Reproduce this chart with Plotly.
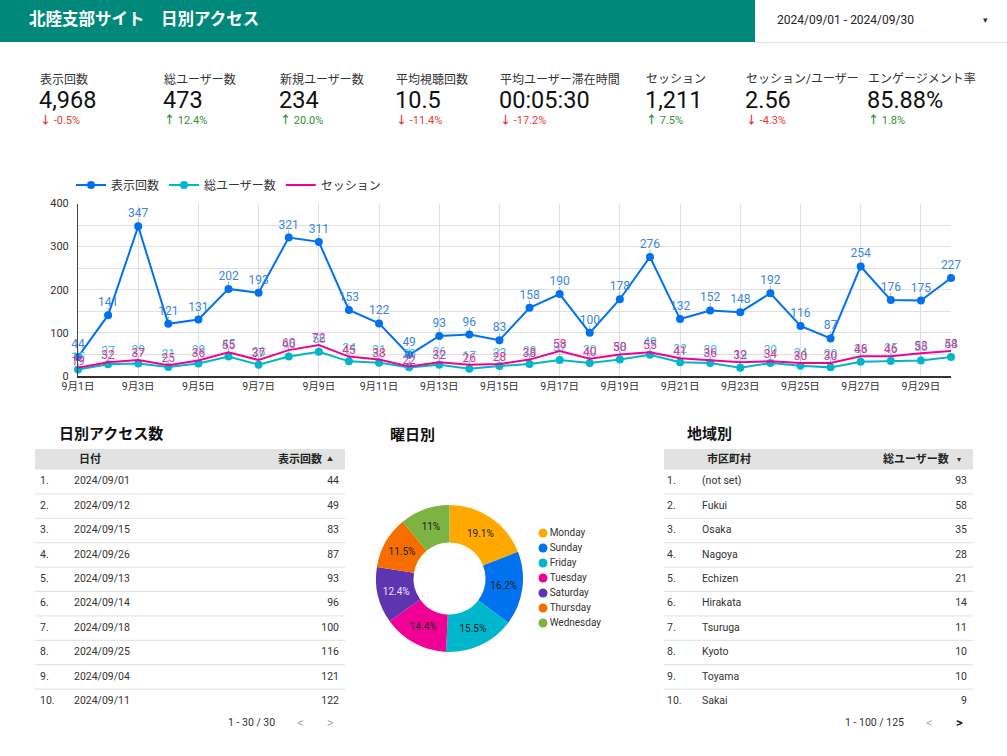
import plotly.graph_objects as go
import pandas as pd

W, H = 1007, 756
FONT = "Roboto, 'Noto Sans CJK JP', sans-serif"

# ---------------- data ----------------
dates = pd.date_range("2024-09-01", "2024-09-30")
views = [44, 141, 347, 121, 131, 202, 193, 321, 311, 153, 122, 49, 93, 96, 83,
         158, 190, 100, 178, 276, 132, 152, 148, 192, 116, 87, 254, 176, 175, 227]
users = [15, 27, 29, 21, 29, 45, 26, 45, 56, 34, 31, 20, 26, 17, 23,
         28, 37, 30, 38, 49, 32, 30, 19, 30, 24, 20, 33, 35, 36, 44]
sessions = [19, 32, 37, 25, 36, 55, 37, 60, 72, 45, 38, 22, 32, 26, 28,
            38, 58, 40, 50, 55, 41, 36, 32, 34, 30, 30, 46, 46, 53, 58]
tick_days = ["2024-09-01", "2024-09-03", "2024-09-05", "2024-09-07", "2024-09-09",
             "2024-09-11", "2024-09-13", "2024-09-15", "2024-09-17", "2024-09-19",
             "2024-09-21", "2024-09-23", "2024-09-25", "2024-09-27", "2024-09-29"]

kpi_labels = ["表示回数", "総ユーザー数", "新規ユーザー数", "平均視聴回数",
              "平均ユーザー滞在時間", "セッション", "セッション/ユーザー", "エンゲージメント率"]
kpi_values = ["4,968", "473", "234", "10.5", "00:05:30", "1,211", "2.56", "85.88%"]
kpi_deltas = [-0.5, 12.4, 20.0, -11.4, -17.2, 7.5, -4.3, 1.8]

t1_dates = ["2024/09/01", "2024/09/12", "2024/09/15", "2024/09/26", "2024/09/13",
            "2024/09/14", "2024/09/18", "2024/09/25", "2024/09/04", "2024/09/11"]
t1_views = [44, 49, 83, 87, 93, 96, 100, 116, 121, 122]

cities = ["(not set)", "Fukui", "Osaka", "Nagoya", "Echizen",
          "Hirakata", "Tsuruga", "Kyoto", "Toyama", "Sakai"]
city_users = [93, 58, 35, 28, 21, 14, 11, 10, 10, 9]

weekdays = ["Monday", "Sunday", "Friday", "Tuesday", "Saturday", "Thursday", "Wednesday"]
weekday_share = [19.1, 16.2, 15.5, 14.4, 12.4, 11.5, 11]

# ---------------- styles ----------------
C_VIEWS, C_USERS, C_SESS = "#0072f0", "#00b6cb", "#f10096"
PIE_COLORS = ["#ffa800", "#0072f0", "#00b6cb", "#f10096", "#5e35b1", "#f66d00", "#7cb342"]
PIE_TEXT = ["#222", "#222", "#222", "#222", "#e8e0f5", "#222", "#222"]
TEAL = "#00897b"
TXT = "#333333"
LEADER = "#b5b5b5"


def fx(p):
    return p / W


def fy(p):
    return 1 - p / H


def leader(n, length):
    # short gray leader line from each point up to its data label
    return dict(type="data", symmetric=False, array=[length] * n, arrayminus=[0] * n,
                color=LEADER, thickness=1, width=0)


fig = go.Figure()

# ---------------- line chart ----------------
fig.add_trace(go.Scatter(x=dates, y=views, name="表示回数", mode="lines+markers+text",
                         line=dict(color=C_VIEWS, width=2), marker=dict(size=8, color=C_VIEWS),
                         text=views, textposition="top center",
                         textfont=dict(color="#3a86e0", size=12), cliponaxis=False,
                         error_y=leader(len(views), 17), hoverinfo="skip"))
fig.add_trace(go.Scatter(x=dates, y=users, name="総ユーザー数", mode="lines+markers+text",
                         line=dict(color=C_USERS, width=2), marker=dict(size=8, color=C_USERS),
                         text=users, textposition="top center",
                         textfont=dict(color="#3cc0d2", size=12), cliponaxis=False,
                         error_y=leader(len(users), 17), hoverinfo="skip"))
fig.add_trace(go.Scatter(x=dates, y=sessions, name="セッション", mode="lines+text",
                         line=dict(color=C_SESS, width=2),
                         text=sessions, textposition="top center",
                         textfont=dict(color="#e0339a", size=12), cliponaxis=False,
                         error_y=leader(len(sessions), 11), hoverinfo="skip"))

# ---------------- pie ----------------
fig.add_trace(go.Pie(labels=weekdays, values=weekday_share, hole=0.49, sort=False,
                     direction="clockwise", rotation=0,
                     marker=dict(colors=PIE_COLORS, line=dict(width=0)),
                     text=[f"{v:g}%" for v in weekday_share], textinfo="text",
                     textposition="inside", insidetextorientation="horizontal",
                     insidetextfont=dict(size=10, color=PIE_TEXT, family=FONT),
                     domain=dict(x=[fx(375), fx(524)], y=[fy(652), fy(505)]),
                     showlegend=False, hoverinfo="skip"))

# pie legend (circle markers)
fig.add_trace(go.Scatter(x=[543] * len(weekdays), y=list(range(len(weekdays))),
                         mode="markers+text", marker=dict(size=9, color=PIE_COLORS),
                         text=weekdays, textposition="middle right",
                         textfont=dict(size=10, color=TXT), xaxis="x4", yaxis="y4",
                         showlegend=False, hoverinfo="skip", cliponaxis=False))

# ---------------- tables ----------------
rows = list(range(1, 11))
idx_labels = [f"{r}." for r in rows]


def add_table(xa, ya, x_idx, x_name, x_val, names, vals):
    fig.add_trace(go.Scatter(x=[x_idx] * 10, y=rows, mode="text", text=idx_labels,
                             textposition="middle right", textfont=dict(size=10.5, color=TXT),
                             xaxis=xa, yaxis=ya, showlegend=False, hoverinfo="skip",
                             cliponaxis=False))
    fig.add_trace(go.Scatter(x=[x_name] * 10, y=rows, mode="text", text=names,
                             textposition="middle right", textfont=dict(size=10.5, color=TXT),
                             xaxis=xa, yaxis=ya, showlegend=False, hoverinfo="skip",
                             cliponaxis=False))
    fig.add_trace(go.Scatter(x=[x_val] * 10, y=rows, mode="text", text=vals,
                             textposition="middle left", textfont=dict(size=10.5, color=TXT),
                             xaxis=xa, yaxis=ya, showlegend=False, hoverinfo="skip",
                             cliponaxis=False))


add_table("x2", "y2", 40, 74, 339, t1_dates, t1_views)
add_table("x3", "y3", 667, 702, 967, cities, city_users)

ROW_TOP, ROW_BOT = -0.34, 11.38
shapes = []
for xa, ya, x0, x1 in [("x2", "y2", 35, 345), ("x3", "y3", 664, 973)]:
    shapes.append(dict(type="rect", xref=xa, yref=ya, x0=x0, x1=x1, y0=ROW_TOP, y1=0.5,
                       fillcolor="#e2e2e2", line=dict(width=0), layer="below"))
    for r in rows[:-1]:
        shapes.append(dict(type="line", xref=xa, yref=ya, x0=x0, x1=x1, y0=r + 0.5, y1=r + 0.5,
                           line=dict(color="#e0e0e0", width=1)))

# header
shapes.append(dict(type="rect", xref="paper", yref="paper", x0=0, x1=fx(755), y0=fy(42), y1=1,
                   fillcolor=TEAL, line=dict(width=0), layer="below"))
shapes.append(dict(type="line", xref="paper", yref="paper", x0=fx(755), x1=1, y0=fy(42.5), y1=fy(42.5),
                   line=dict(color="#e6e6e6", width=1.5)))

annotations = []


def ann(x, y, text, size, color=TXT, xanchor="left", xref="paper", yref="paper", **kw):
    annotations.append(dict(x=x, y=y, xref=xref, yref=yref, text=text, showarrow=False,
                            xanchor=xanchor, yanchor="middle",
                            font=dict(size=size, color=color, family=FONT), **kw))


ann(fx(27), fy(19), "<b>北陸支部サイト　日別アクセス</b>", 16.5, "white")
ann(fx(775), fy(20), "2024/09/01 - 2024/09/30", 12, "#222")
ann(fx(985), fy(20), "▾", 9, "#333", xanchor="center")

kpi_x = [39, 163, 279, 395, 499, 645, 745, 867]
for x, lab, val, d in zip(kpi_x, kpi_labels, kpi_values, kpi_deltas):
    ann(fx(x - 1), fy(79), lab, 12, TXT)
    ann(fx(x - 2), fy(100), val, 23.5, "#111")
    if d < 0:
        ann(fx(x - 1), fy(121), f"<b>↓</b> {d:.1f}%", 11, "#e53935")
    else:
        ann(fx(x - 1), fy(121), f"<b>↑</b> {d:.1f}%", 11, "#388e3c")

# section titles
ann(fx(57), fy(434), "<b>日別アクセス数</b>", 15, "#111")
ann(fx(388), fy(435), "<b>曜日別</b>", 15, "#111")
ann(fx(685), fy(434), "<b>地域別</b>", 15, "#111")

# table headers and pagination
ann(77, 0.08, "<b>日付</b>", 11, "#222", xref="x2", yref="y2")
ann(324, 0.08, "<b>表示回数</b>", 11, "#222", xanchor="right", xref="x2", yref="y2")
ann(330, 0.05, "▲", 6, "#333", xanchor="center", xref="x2", yref="y2")
ann(277, 10.87, "1 - 30 / 30", 10.5, TXT, xanchor="right", xref="x2", yref="y2")
ann(300, 10.87, "<", 13, "#aaaaaa", xanchor="center", xref="x2", yref="y2")
ann(330, 10.87, ">", 13, "#aaaaaa", xanchor="center", xref="x2", yref="y2")

ann(705, 0.08, "<b>市区町村</b>", 11, "#222", xref="x3", yref="y3")
ann(951, 0.08, "<b>総ユーザー数</b>", 11, "#222", xanchor="right", xref="x3", yref="y3")
ann(959, 0.1, "▾", 8, "#333", xanchor="center", xref="x3", yref="y3")
ann(906, 10.87, "1 - 100 / 125", 10.5, TXT, xanchor="right", xref="x3", yref="y3")
ann(929, 10.87, "<", 13, "#aaaaaa", xanchor="center", xref="x3", yref="y3")
ann(959, 10.87, "<b>></b>", 13, "#222", xanchor="center", xref="x3", yref="y3")

hidden = dict(visible=False, fixedrange=True, automargin=False)

fig.update_layout(
    width=W, height=H, autosize=False,
    margin=dict(l=0, r=0, t=0, b=0, pad=0, autoexpand=False),
    paper_bgcolor="white", plot_bgcolor="white",
    font=dict(family=FONT, color=TXT),
    showlegend=True,
    legend=dict(orientation="h", x=fx(71), y=fy(185), xanchor="left", yanchor="middle",
                font=dict(size=12, color=TXT), bgcolor="rgba(0,0,0,0)", itemclick=False),
    xaxis=dict(domain=[fx(78), fx(951)], range=["2024-09-01", "2024-09-30"],
               tickvals=tick_days, tickformat="%-m月%-d日", tickfont=dict(size=10.5, color=TXT),
               showgrid=True, gridcolor="#e0e0e0", gridwidth=1, automargin=False,
               showline=True, linecolor="#333", linewidth=1.5, ticks="", zeroline=False,
               fixedrange=True),
    yaxis=dict(domain=[fy(376), fy(203.5)], range=[0, 400], dtick=100,
               tickfont=dict(size=11, color=TXT), showgrid=True, gridcolor="#e0e0e0",
               minor=dict(dtick=50, showgrid=True, gridcolor="#e0e0e0"), automargin=False,
               showline=True, linecolor="#444", linewidth=1, zeroline=False, ticks="",
               ticklabelstandoff=6, fixedrange=True),
    xaxis2=dict(domain=[fx(35), fx(345)], range=[35, 345], anchor="y2", **hidden),
    yaxis2=dict(domain=[fy(735), fy(449)], range=[ROW_BOT, ROW_TOP], anchor="x2", **hidden),
    xaxis3=dict(domain=[fx(664), fx(973)], range=[664, 973], anchor="y3", **hidden),
    yaxis3=dict(domain=[fy(735), fy(449)], range=[ROW_BOT, ROW_TOP], anchor="x3", **hidden),
    xaxis4=dict(domain=[fx(535), fx(620)], range=[535, 620], anchor="y4", **hidden),
    yaxis4=dict(domain=[fy(632), fy(525)], range=[(632 - 533) / 15, (525 - 533) / 15],
                anchor="x4", **hidden),
    shapes=shapes,
    annotations=annotations,
)

fig.write_html("out.html", config={"displayModeBar": False},
               post_script="document.body.style.margin='0px';")
